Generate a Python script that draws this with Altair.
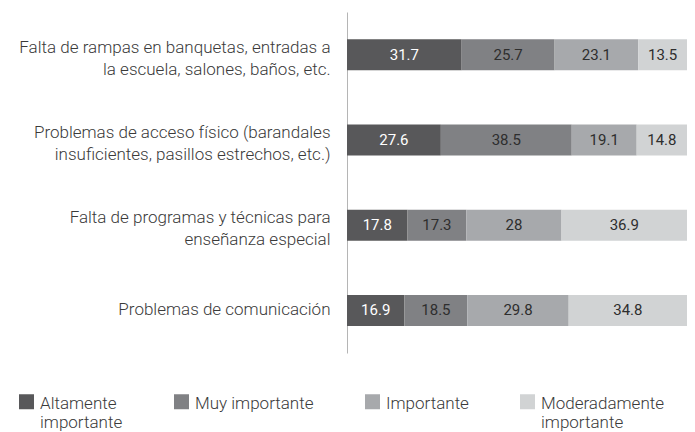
import altair as alt
import pandas as pd

categorias = [
    "Falta de rampas en banquetas, entradas a|la escuela, salones, baños, etc.",
    "Problemas de acceso físico (barandales|insuficientes, pasillos estrechos, etc.)",
    "Falta de programas y técnicas para|enseñanza especial",
    "Problemas de comunicación",
]
series = ["Altamente|importante", "Muy importante|", "Importante|", "Moderadamente|importante"]
altamente = [31.7, 27.6, 17.8, 16.9]
muy = [25.7, 38.5, 17.3, 18.5]
importante = [23.1, 19.1, 28, 29.8]
moderada = [13.5, 14.8, 36.9, 34.8]
colores = ["#58585a", "#808184", "#a7a9ac", "#d1d3d4"]

valores = [altamente, muy, importante, moderada]
rows = []
for si, (s, vals) in enumerate(zip(series, valores)):
    for c, v in zip(categorias, vals):
        rows.append({"cat": c, "serie": s, "orden": si, "valor": v})
df = pd.DataFrame(rows)

FONT = "Roboto"

base = alt.Chart(df).transform_stack(
    stack="valor", groupby=["cat"], as_=["x0", "x1"], offset="normalize",
    sort=[alt.SortField("orden", order="ascending")]
).transform_calculate(mid="(datum.x0 + datum.x1) / 2")

y_enc = alt.Y(
    "cat:N", sort=categorias, title=None,
    scale=alt.Scale(paddingInner=0, paddingOuter=0),
    axis=alt.Axis(
        labelExpr="split(datum.label, '|')", labelFontSize=17, labelFont=FONT,
        labelFontWeight=300, labelColor="#3a3a3a", labelPadding=17, labelLimit=400,
        labelLineHeight=22,
        labelOffset={"condition": {"test": "indexof(datum.value, '|') < 0", "value": 0}, "value": -7},
        ticks=False, domainColor="#b5b5b5", domainWidth=1, grid=False,
    ),
)

bars = base.mark_bar(size=31).encode(
    y=y_enc,
    x=alt.X("x0:Q", axis=None, scale=alt.Scale(domain=[0, 1], nice=False, zero=True)),
    x2="x1:Q",
    color=alt.Color(
        "serie:N", sort=series,
        scale=alt.Scale(domain=series, range=colores),
        legend=alt.Legend(
            title=None, orient="none", direction="horizontal",
            legendX=-329, legendY=375,
            labelExpr="split(datum.label, '|')", labelFont=FONT, labelFontSize=17,
            labelFontWeight=300, labelColor="#3a3a3a",
            labelBaseline="top", labelOffset=5, labelLimit=300,
            symbolType="M-1,-0.2H1V1.8H-1Z", symbolSize=225, symbolStrokeWidth=0,
            symbolOpacity=1, columnPadding=50,
        ),
    ),
    order=alt.Order("orden:Q"),
)

labels = base.mark_text(fontSize=15, font=FONT, baseline="middle", align="center").encode(
    y=alt.Y("cat:N", sort=categorias),
    x=alt.X("mid:Q"),
    text=alt.Text("valor:Q", format=".3~r"),
    color=alt.condition(alt.datum.orden == 0, alt.value("#ffffff"), alt.value("#2e2e2e")),
)

chart = alt.layer(bars, labels).properties(
    width=340, height=341,
    autosize=alt.AutoSizeParams(type="none"),
    padding={"left": 339, "top": 4, "right": 0, "bottom": 79},
).configure_view(stroke=None)

chart.save("out.html", embed_options={"renderer": "svg", "actions": False})
